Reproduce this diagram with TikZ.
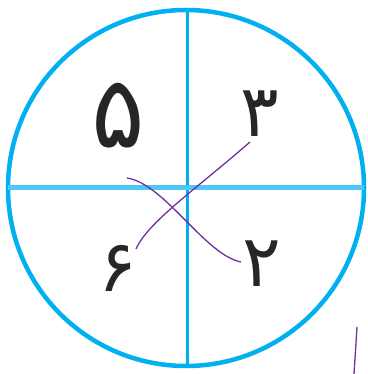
\documentclass[tikz,border=0pt]{standalone}
\usepackage{fontspec}
\newfontfamily\arabicfont[Script=Arabic]{DejaVu Sans}
\TeXXeTstate=1
\usetikzlibrary{positioning}
\definecolor{cyan}{RGB}{0,176,240}
\definecolor{lightcyan}{RGB}{80,200,245}
\definecolor{purple}{RGB}{112,48,160}

\begin{document}
\begin{tikzpicture}[x=1pt, y=1pt, digit/.style={font=\arabicfont\fontsize{72}{72}\selectfont, text=black!85, inner sep=0pt}]
\useasboundingbox (0,0) rectangle (367,374);
\coordinate (hub) at (186,186);
\coordinate (top) at (187,365);
\coordinate (bottom) at (187,7);
\coordinate (left) at (8,186);
\coordinate (right) at (364,186);
\draw[cyan, line width=4.5pt] (hub) circle[radius=178];
\draw[cyan, line width=3pt] (top) -- (bottom);
\draw[lightcyan, line width=5pt] (left) -- (right);
\node[digit, font=\arabicfont\fontsize{100}{100}\selectfont] (five) at (118,258) {\beginR ۵\endR};
\node[digit] (three) at (260,260) {\beginR ۳\endR};
\node[digit] (six) at (118,106) {\beginR ۶\endR};
\node[digit] (two) at (262,110) {\beginR ۲\endR};
\coordinate (a1) at (250,232);
\coordinate (a2) at (136,125);
\coordinate (b1) at (127,196);
\coordinate (b2) at (241,112);
\coordinate (c1) at (357,47);
\coordinate (c2) at (354,0);
\draw[purple, line width=1.3pt] (a1) .. controls (195,184) and (148,152) .. (a2);
\draw[purple, line width=1.3pt] (b1) .. controls (165,190) and (205,119) .. (b2);
\draw[purple, line width=1.3pt] (c1) -- (c2);
\end{tikzpicture}
\end{document}
